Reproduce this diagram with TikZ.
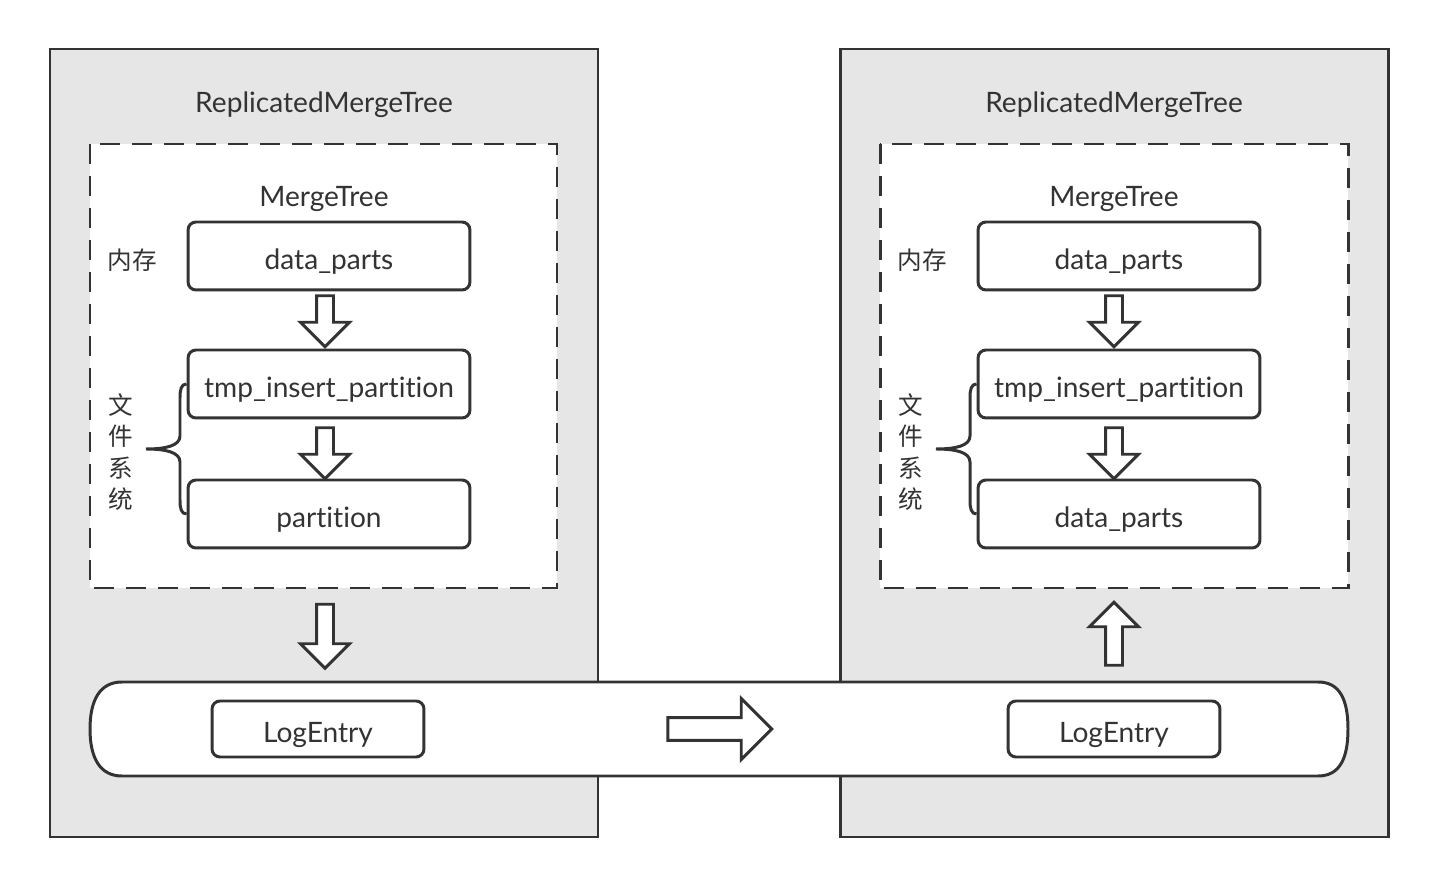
\documentclass[tikz,border=0pt]{standalone}
\usepackage{fontspec}
\setmainfont{Lato}[Ligatures=NoCommon]
\newfontfamily\cjk{Noto Sans CJK SC}
\usetikzlibrary{shapes.arrows}
\definecolor{linegray}{HTML}{333333}
\definecolor{boxgray}{HTML}{E6E6E6}
\tikzset{
  outerbox/.style={draw=linegray, fill=boxgray, line width=1.7pt},
  dashbox/.style={draw=linegray, fill=white, line width=1.7pt, dash pattern=on 0.4cm off 0.24cm},
  partbox/.style={draw=linegray, fill=white, line width=1.7pt, rounded corners=0.16cm,
    minimum width=5.64cm, minimum height=1.36cm, inner sep=0pt, text height=0.56cm, text depth=0pt},
  logbox/.style={draw=linegray, fill=white, line width=1.7pt, rounded corners=0.16cm,
    minimum width=4.24cm, minimum height=1.12cm, inner sep=0pt, text height=0.56cm, text depth=0pt},
  blockarrow/.style={single arrow, draw=linegray, fill=white, line width=1.7pt,
    inner sep=0.14cm, single arrow head extend=0.32cm, single arrow head indent=0pt},
  bigarrow/.style={blockarrow, inner sep=0.2cm, single arrow head extend=0.38cm},
  braceline/.style={draw=linegray, line width=1.7pt},
  cjktext/.style={font=\fontsize{14}{18}\selectfont\cjk},
}
\begin{document}
\begin{tikzpicture}[x=0.02cm, y=-0.02cm, every node/.style={font=\fontsize{16}{18}\selectfont, text=linegray}]
\useasboundingbox (0,0) rectangle (1438,888);

% outer boxes
\draw[outerbox] (50,49) rectangle (598,837);
\draw[outerbox] (840,49) rectangle (1388,837);
\draw[dashbox] (90,144) rectangle (557,588);
\draw[dashbox] (880,144) rectangle (1348,588);

% log pipe
\draw[braceline, fill=white] (122,682) -- (1318,682)
  .. controls (1340,682) and (1348,700) .. (1348,729)
  .. controls (1348,758) and (1340,776) .. (1318,776) -- (122,776)
  .. controls (100,776) and (90,758) .. (90,729)
  .. controls (90,700) and (100,682) .. cycle;

% left replica
\node (T1) at (324,105) {ReplicatedMergeTree};
\node (M1) at (324,199) {MergeTree};
\node[partbox] (A1) at (329,256) {data\_parts};
\node[partbox] (B1) at (329,384) {tmp\_insert\_partition};
\node[partbox] (C1) at (329,514) {partition};
\node[cjktext] (R1) at (132,260) {内存};
\node[cjktext, align=center] (F1) at (121,452) {文\\件\\系\\统};
\node[blockarrow, rotate=-90, minimum height=1.02cm] (a1) at (325,317) {};
\node[blockarrow, rotate=-90, minimum height=1.02cm] (b1) at (325,449) {};
\node[blockarrow, rotate=-90, minimum height=1.28cm] (c1) at (325,632) {};
\draw[braceline] (B1.west) .. controls (181,384) and (180,390) .. (180,398) -- (180,436)
  .. controls (180,446) and (165,449) .. (146,449)
  .. controls (165,449) and (180,452) .. (180,462) -- (180,500)
  .. controls (180,508) and (181,514) .. (C1.west);
\node[logbox] (L1) at (318,729) {LogEntry};

% right replica
\node (T2) at (1114,105) {ReplicatedMergeTree};
\node (M2) at (1114,199) {MergeTree};
\node[partbox] (A2) at (1119,256) {data\_parts};
\node[partbox] (B2) at (1119,384) {tmp\_insert\_partition};
\node[partbox] (C2) at (1119,514) {data\_parts};
\node[cjktext] (R2) at (922,260) {内存};
\node[cjktext, align=center] (F2) at (911,452) {文\\件\\系\\统};
\node[blockarrow, rotate=-90, minimum height=1.02cm] (a2) at (1114,317) {};
\node[blockarrow, rotate=-90, minimum height=1.02cm] (b2) at (1114,449) {};
\node[blockarrow, rotate=90, minimum height=1.26cm] (c2) at (1114,638) {};
\draw[braceline] (B2.west) .. controls (971,384) and (970,390) .. (970,398) -- (970,436)
  .. controls (970,446) and (955,449) .. (936,449)
  .. controls (955,449) and (970,452) .. (970,462) -- (970,500)
  .. controls (970,508) and (971,514) .. (C2.west);
\node[logbox] (L2) at (1114,729) {LogEntry};

\node[bigarrow, minimum height=2.08cm] (s) at (714,729) {};
\end{tikzpicture}
\end{document}
